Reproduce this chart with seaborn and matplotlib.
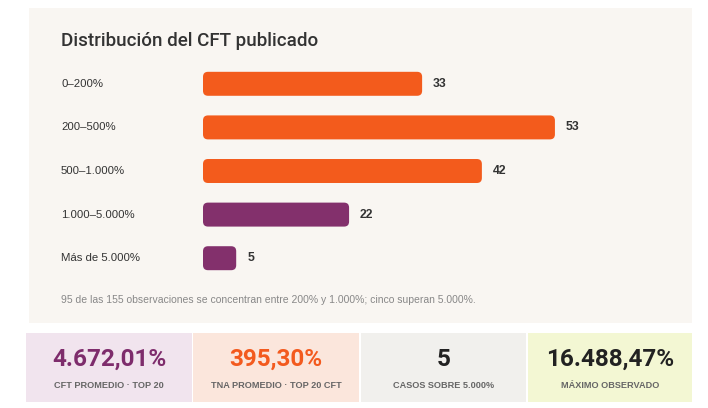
import numpy as np
import pandas as pd
import matplotlib
matplotlib.use("Agg")
import matplotlib.pyplot as plt
import matplotlib.transforms as mtransforms
from matplotlib.patches import FancyBboxPatch, Rectangle
import seaborn as sns

## datos del gráfico
categorias = ["0–200%", "200–500%", "500–1.000%", "1.000–5.000%", "Más de 5.000%"]
cantidades = [33, 53, 42, 22, 5]
colores = ["#f35b1c", "#f35b1c", "#f35b1c", "#83306c", "#83306c"]

kpi_valores = ["4.672,01%", "395,30%", "5", "16.488,47%"]
kpi_etiquetas = ["CFT PROMEDIO · TOP 20", "TNA PROMEDIO · TOP 20 CFT",
                 "CASOS SOBRE 5.000%", "MÁXIMO OBSERVADO"]
kpi_fondos = ["#f1e4ee", "#fbe6dc", "#f1f0ed", "#f3f7d3"]
kpi_colores = ["#7e2c6c", "#f35a1e", "#222222", "#222222"]

titulo = "Distribución del CFT publicado"
nota = "95 de las 155 observaciones se concentran entre 200% y 1.000%; cinco superan 5.000%."

df = pd.DataFrame({"rango": categorias, "n": cantidades})

sns.set_theme(style="white")
plt.rcParams["font.family"] = ["Roboto", "DejaVu Sans"]
arial = ["Liberation Sans", "DejaVu Sans"]

W, H = 708, 408
fig = plt.figure(figsize=(W / 100, H / 100), dpi=100)
fig.patch.set_facecolor("white")


def fx(px):
    return px / W


def fy(py):
    return 1 - py / H


## panel de fondo
fig.patches.append(Rectangle((fx(29), fy(323)), fx(692) - fx(29), fy(8) - fy(323),
                             transform=fig.transFigure, facecolor="#f9f6f2",
                             edgecolor="none", zorder=-2))

fig.text(fx(61), fy(41), titulo, fontsize=13.5, color="#333333",
         fontweight="medium", va="center", ha="left")

## barras
ax = fig.add_axes([fx(203), fy(280), fx(400), 218 / H])
sns.barplot(data=df, x="n", y="rango", hue="rango", palette=colores,
            orient="h", width=0.55, legend=False, ax=ax, saturation=1)
ax.set_xlim(0, 400 / 6.64)
ax.set_ylim(4.5, -0.5)
ax.axis("off")

x_per_px = (400 / 6.64) / 400
y_per_px = 5 / 218
for p in list(ax.patches):
    x0, y0, w, h = p.get_x(), p.get_y(), p.get_width(), p.get_height()
    c = p.get_facecolor()
    p.set_visible(False)
    ax.add_patch(FancyBboxPatch((x0, y0), w, h,
                                boxstyle=f"round,pad=0,rounding_size={5 * x_per_px}",
                                mutation_aspect=y_per_px / x_per_px,
                                facecolor=c, edgecolor="none", zorder=3))

trans = mtransforms.blended_transform_factory(fig.transFigure, ax.transData)
for i, (cat, n) in enumerate(zip(categorias, cantidades)):
    ax.text(fx(61), i, cat, transform=trans, fontsize=8.2, color="#333333",
            va="center", ha="left", family=arial, clip_on=False)
    ax.text(n + 11 * x_per_px, i, str(n), fontsize=8.8, fontweight="bold",
            color="#333333", va="center", ha="left", family=arial)

fig.text(fx(61), fy(300), nota, fontsize=7.5, color="#888888", va="center",
         ha="left", family=arial)

## tarjetas KPI
bordes = [(26, 192), (193, 359), (361, 526), (528, 692)]
for (x0, x1), val, lab, bg, col in zip(bordes, kpi_valores, kpi_etiquetas, kpi_fondos, kpi_colores):
    fig.patches.append(Rectangle((fx(x0), fy(402)), fx(x1) - fx(x0), fy(333) - fy(402),
                                 transform=fig.transFigure, facecolor=bg,
                                 edgecolor="none", zorder=-2))
    cx = fx((x0 + x1) / 2)
    fig.text(cx, fy(359), val, fontsize=17.5, fontweight="bold", color=col,
             ha="center", va="center")
    fig.text(cx, fy(386), lab, fontsize=6.6, fontweight="bold", color="#666666",
             ha="center", va="center", family=arial)

fig.savefig("out.png", dpi=100, facecolor=fig.get_facecolor())
